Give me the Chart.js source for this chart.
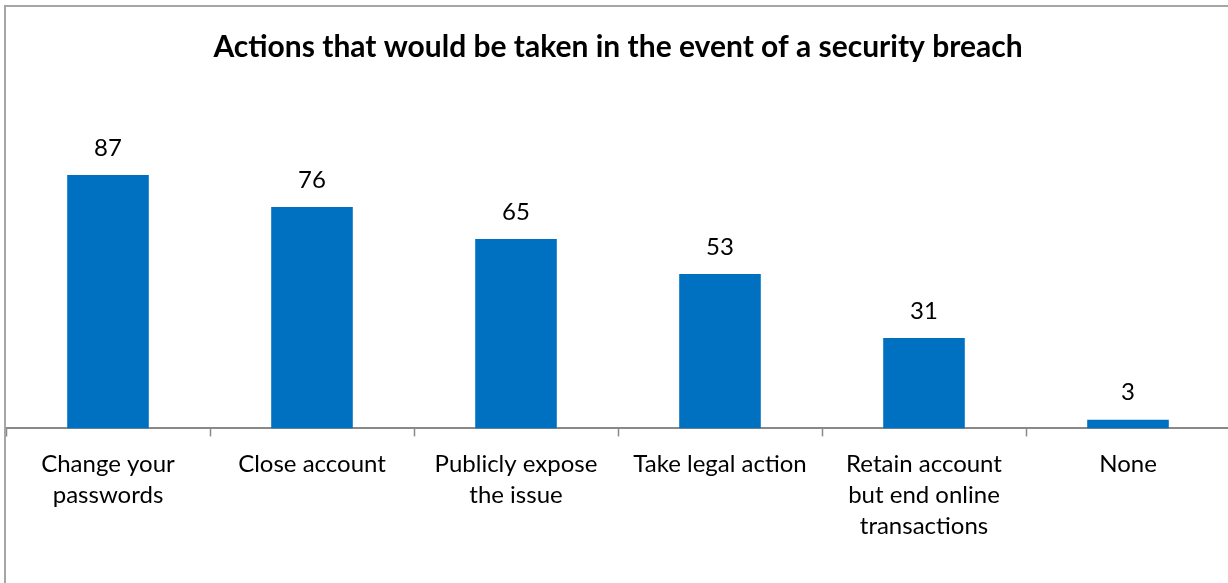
<!DOCTYPE html>
<html>
<head>
<meta charset="utf-8">
<script src="https://cdn.jsdelivr.net/npm/chart.js@4.4.0/dist/chart.umd.min.js"></script>
<style>
	html, body { margin: 0; padding: 0; background: #fff; overflow: hidden; }
	#frame {
		position: absolute; left: 4px; top: 5px;
		width: 1230px; height: 600px;
		border: 2px solid #a6a6a6;
		background: #fff;
	}
	#wrap { position: absolute; left: 0; top: 0; width: 1224px; height: 576px; }
</style>
</head>
<body>
<div id="frame"><div id="wrap"><canvas id="chart"></canvas></div></div>
<script>
const categories = [
	[ 'Change your', 'passwords' ],
	[ 'Close account' ],
	[ 'Publicly expose', 'the issue' ],
	[ 'Take legal action' ],
	[ 'Retain account', 'but end online', 'transactions' ],
	[ 'None' ],
];
const values = [ 87, 76, 65, 53, 31, 3 ];
const titleText = 'Actions that would be taken in the event of a security breach';

const FONT = 'Lato, "Open Sans", sans-serif';

// value labels above each bar
const valueLabels = {
	id: 'valueLabels',
	afterDatasetsDraw( chart ) {
		const { ctx } = chart;
		const meta = chart.getDatasetMeta( 0 );
		ctx.save();
		ctx.font = `24px ${ FONT }`;
		ctx.fillStyle = '#000';
		ctx.textAlign = 'center';
		ctx.textBaseline = 'middle';
		meta.data.forEach( ( bar, i ) => {
			ctx.fillText( values[ i ], bar.x, bar.y - 27 );
		} );
		ctx.restore();
	},
};

new Chart( document.getElementById( 'chart' ), {
	type: 'bar',
	data: {
		labels: categories,
		datasets: [ {
			data: values,
			backgroundColor: '#0070C0',
			borderWidth: 0,
			categoryPercentage: 0.4,
			barPercentage: 1,
		} ],
	},
	options: {
		responsive: true,
		maintainAspectRatio: false,
		animation: false,
		layout: { padding: { left: 0, right: 0, top: 0, bottom: 29 } },
		plugins: {
			legend: { display: false },
			tooltip: { enabled: false },
			title: {
				display: true,
				text: titleText,
				color: '#000',
				font: { family: FONT, size: 30, weight: 'bold', lineHeight: 1.2 },
				padding: { top: 22, bottom: 72 },
			},
		},
		scales: {
			y: { display: false, min: 0, max: 100 },
			x: {
				grid: {
					display: true,
					drawOnChartArea: false,
					drawTicks: true,
					tickLength: 8,
					tickColor: '#898989',
					tickWidth: 1.5,
					offset: true,
				},
				border: { display: true, color: '#898989', width: 2 },
				ticks: {
					color: '#000',
					font: { family: FONT, size: 24, lineHeight: 1.3 },
					padding: 12,
					maxRotation: 0,
					autoSkip: false,
				},
			},
		},
	},
	plugins: [ valueLabels ],
} );
</script>
</body>
</html>
